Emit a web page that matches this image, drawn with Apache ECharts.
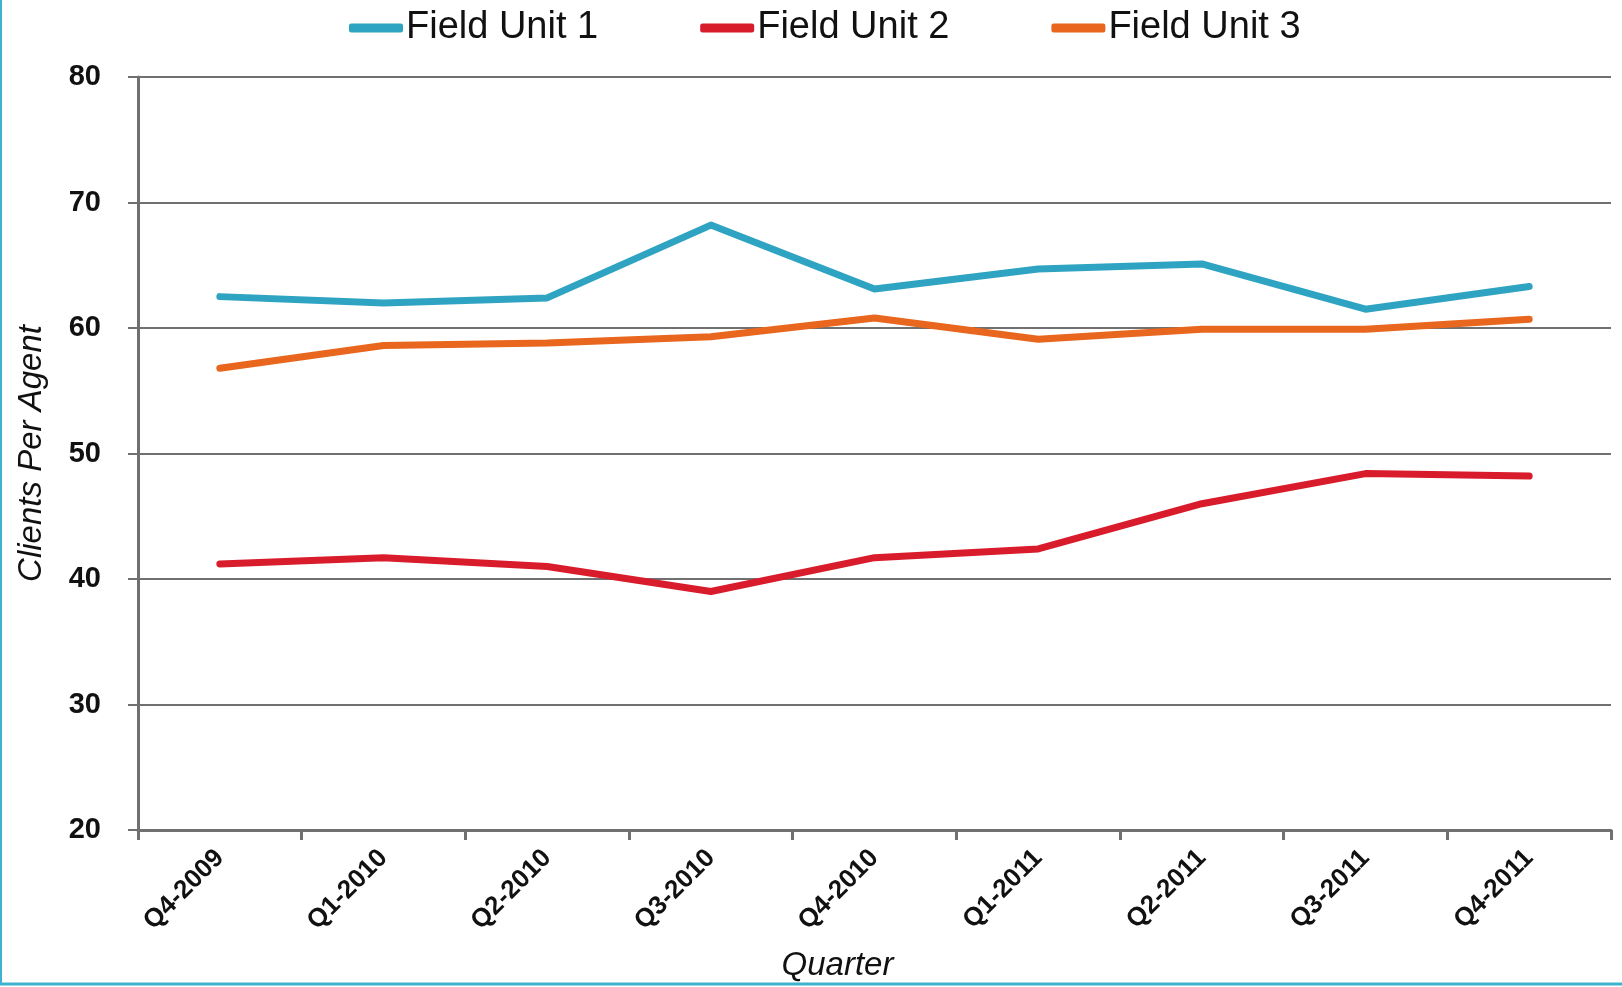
<!DOCTYPE html>
<html>
<head>
<meta charset="utf-8">
<script src="https://cdn.jsdelivr.net/npm/echarts@6/dist/echarts.min.js"></script>
<style>
  html, body { margin:0; padding:0; background:#fff; }
  #root { width:1622px; height:987px; }
</style>
</head>
<body>
<div id="root"></div>
<script>
// quarters on the x axis
const quarters = ['Q4-2009','Q1-2010','Q2-2010','Q3-2010','Q4-2010','Q1-2011','Q2-2011','Q3-2011','Q4-2011'];

// clients per agent
const unit1 = [62.5, 62.0, 62.4, 68.2, 63.1, 64.7, 65.1, 61.5, 63.3];
const unit2 = [41.2, 41.7, 41.0, 39.0, 41.7, 42.4, 46.0, 48.4, 48.2];
const unit3 = [56.8, 58.6, 58.8, 59.3, 60.8, 59.1, 59.9, 59.9, 60.7];

const seriesNames = ['Field Unit 1', 'Field Unit 2', 'Field Unit 3'];
const seriesColors = ['#2fa4c2', '#d91c2b', '#e8661d'];
const yTicks = { min: 20, max: 80, step: 10 };

const FONT = '"Liberation Sans", Arial, sans-serif';
const GRID_GREY = '#707070';

const chart = echarts.init(document.getElementById('root'), null, { renderer: 'canvas' });

function lineSeries(name, data, color){
  return {
    name: name,
    type: 'line',
    data: data,
    symbol: 'none',
    lineStyle: { width: 7, color: color, cap: 'round', join: 'round' },
    itemStyle: { color: color },
    emphasis: { disabled: true }
  };
}

chart.setOption({
  animation: false,
  textStyle: { fontFamily: FONT },
  legend: {
    left: 344,
    top: 4,
    icon: 'roundRect',
    itemWidth: 54,
    itemHeight: 9,
    itemGap: 102,
    textStyle: { fontSize: 38, color: '#111', fontFamily: FONT, padding: [0,0,0,-2] },
    data: seriesNames
  },
  grid: { left: 138, right: 11, top: 77, bottom: 154 },
  xAxis: {
    type: 'category',
    data: quarters,
    boundaryGap: true,
    name: 'Quarter',
    nameLocation: 'middle',
    nameGap: 119,
    nameTextStyle: { fontSize: 33, fontStyle: 'italic', color: '#111', fontFamily: FONT, padding: [0, 74, 0, 0] },
    axisLine: { show: true, lineStyle: { color: GRID_GREY, width: 3 } },
    axisTick: { show: true, length: 10, lineStyle: { color: GRID_GREY, width: 3 } },
    axisLabel: { interval: 0, rotate: 45, margin: 24, fontSize: 26, fontWeight: 'bold', color: '#111', fontFamily: FONT },
    splitLine: { show: false }
  },
  yAxis: {
    type: 'value',
    min: yTicks.min,
    max: yTicks.max,
    interval: yTicks.step,
    name: 'Clients Per Agent',
    nameLocation: 'middle',
    nameGap: 90,
    nameTextStyle: { fontSize: 33, fontStyle: 'italic', color: '#111', fontFamily: FONT },
    axisLine: { show: true, lineStyle: { color: GRID_GREY, width: 3 } },
    axisTick: { show: true, length: 10, lineStyle: { color: GRID_GREY, width: 2 } },
    axisLabel: { margin: 37, fontSize: 29, fontWeight: 'bold', color: '#111', fontFamily: FONT },
    splitLine: { show: true, lineStyle: { color: GRID_GREY, width: 2 } }
  },
  graphic: [
    { type: 'line', shape: { x1: 1, y1: 0, x2: 1, y2: 985 }, style: { stroke: '#3fb2cf', lineWidth: 2 } },
    { type: 'line', shape: { x1: 0, y1: 984, x2: 1622, y2: 984 }, style: { stroke: '#3fb2cf', lineWidth: 3 } }
  ],
  series: [
    lineSeries(seriesNames[0], unit1, seriesColors[0]),
    lineSeries(seriesNames[1], unit2, seriesColors[1]),
    lineSeries(seriesNames[2], unit3, seriesColors[2])
  ]
});
</script>
</body>
</html>
